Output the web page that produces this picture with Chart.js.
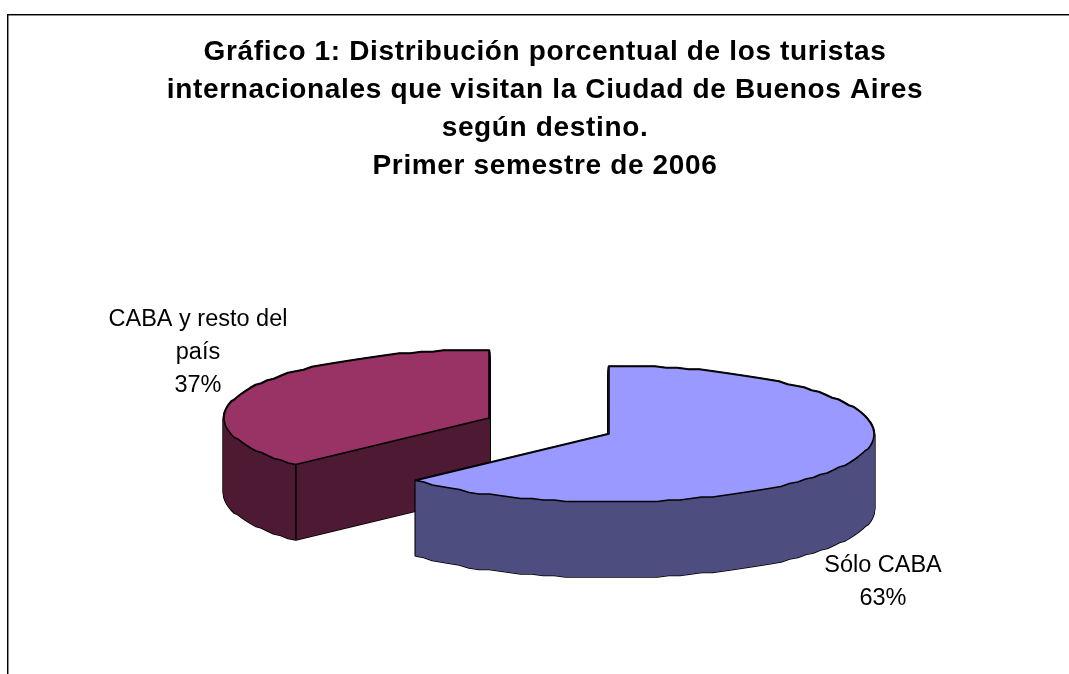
<!DOCTYPE html>
<html><head><meta charset="utf-8">
<style>
html,body{margin:0;padding:0;background:#fff;overflow:hidden;width:1069px;height:674px}
#wrap{position:absolute;left:21px;top:0;width:1048px;height:674px}
#frameTop{position:absolute;left:7px;top:14px;width:1062px;height:1px;background:#000;box-shadow:0 1px 0 rgba(0,0,0,.45)}
#frameLeft{position:absolute;left:7px;top:14px;width:1px;height:660px;background:#000;box-shadow:1px 0 0 rgba(0,0,0,.45)}
</style>
<script src="https://cdn.jsdelivr.net/npm/chart.js@4"></script>
</head><body>
<div id="frameTop"></div><div id="frameLeft"></div>
<div id="wrap"><canvas id="c" width="1048" height="674"></canvas></div>
<script>
const titleLines = ["Gráfico 1: Distribución porcentual de los turistas","internacionales que visitan la Ciudad de Buenos Aires","según destino.","Primer semestre de 2006"];
const categories = ["Sólo CABA","CABA y resto del país"];
const categoryLines = [["Sólo CABA"],["CABA y resto del","país"]];
const values = [63,37];
const topColors = ["#9999FF","#993366"];
const sideColors = ["#4D4D80","#4D1933"];

const GEOM = {rx:265, ry:68, depth:75, explode:[[64,8],[-56,-8]], seg:2.5, snap:1.5};
const LABEL_POS = [[862,566],[177,320]];

const pie3d = {
  id:'pie3d',
  beforeDraw(chart){ chart.ctx.letterSpacing='0.65px'; },
  beforeDatasetsDraw(chart){
    const ctx = chart.ctx, arcs = chart.getDatasetMeta(0).data;
    ctx.letterSpacing='0px';
    const rim = (a,cx,cy)=>{
      const n = Math.max(2,Math.ceil((a.endAngle-a.startAngle)*180/Math.PI/GEOM.seg)), pts=[];
      for(let i=0;i<=n;i++){
        const t = a.startAngle+(a.endAngle-a.startAngle)*i/n;
        const y = GEOM.ry*Math.sin(t);
        pts.push([cx+GEOM.rx*Math.cos(t), cy+Math.round(y/GEOM.snap)*GEOM.snap, Math.sin(t)]);
      }
      return pts;
    };
    const wedge = (pts,cx,cy,dy)=>{
      ctx.beginPath();
      ctx.moveTo(cx,cy+dy);
      pts.forEach(p=>ctx.lineTo(p[0],p[1]+dy));
      ctx.closePath();
    };
    ctx.save();
    ctx.lineJoin='round';
    [1,0].forEach(i=>{
      const a = arcs[i];
      const cx = a.x+GEOM.explode[i][0], cy = a.y+GEOM.explode[i][1];
      const pts = rim(a,cx,cy);
      ctx.strokeStyle='#000'; ctx.lineWidth=2.6;
      for(let d=GEOM.depth;d>=0;d--){ wedge(pts,cx,cy,d); ctx.stroke(); }
      ctx.fillStyle=sideColors[i]; ctx.strokeStyle=sideColors[i]; ctx.lineWidth=1;
      for(let d=GEOM.depth;d>=0;d--){ wedge(pts,cx,cy,d); ctx.stroke(); ctx.fill(); }
      // one clean pass over the visible outer band
      const front = pts.filter(p=>p[2]>=0);
      ctx.beginPath();
      front.forEach((p,k)=>k?ctx.lineTo(p[0],p[1]):ctx.moveTo(p[0],p[1]));
      front.slice().reverse().forEach(p=>ctx.lineTo(p[0],p[1]+GEOM.depth));
      ctx.closePath(); ctx.fill();
      ctx.strokeStyle='#000'; ctx.lineWidth=1.6;
      // the slice whose cut face is towards the viewer
      if(i===1){
        const p=pts[0];
        ctx.beginPath(); ctx.moveTo(cx,cy); ctx.lineTo(p[0],p[1]); ctx.lineTo(p[0],p[1]+GEOM.depth); ctx.lineTo(cx,cy+GEOM.depth); ctx.closePath(); ctx.fill();
        ctx.beginPath(); ctx.moveTo(p[0],p[1]); ctx.lineTo(p[0],p[1]+GEOM.depth); ctx.stroke();
      }
      wedge(pts,cx,cy,0);
      ctx.fillStyle=topColors[i]; ctx.fill();
      ctx.stroke();
    });
    ctx.restore();
    return false;
  },
  afterDraw(chart){
    const ctx=chart.ctx;
    ctx.save();
    ctx.font='23.5px "Liberation Sans"'; ctx.fillStyle='#000';
    ctx.textAlign='center'; ctx.textBaseline='middle';
    values.forEach((v,i)=>{
      const lines=[...categoryLines[i], v+'%'];
      lines.forEach((s,j)=>ctx.fillText(s, LABEL_POS[i][0], LABEL_POS[i][1]+j*33));
    });
    ctx.restore();
  }
};

new Chart(document.getElementById('c'),{
  type:'pie',
  data:{labels:categories,datasets:[{data:values,backgroundColor:topColors,borderWidth:0}]},
  options:{
    responsive:false,animation:false,
    layout:{padding:{left:0,right:0,top:0,bottom:27}},
    plugins:{
      legend:{display:false},tooltip:{enabled:false},
      title:{display:true,text:titleLines,color:'#000',
        font:{family:'"Liberation Sans"',size:28,weight:'bold',lineHeight:1.357},
        padding:{top:33,bottom:20}}
    }
  },
  plugins:[pie3d]
});
</script>
</body></html>
